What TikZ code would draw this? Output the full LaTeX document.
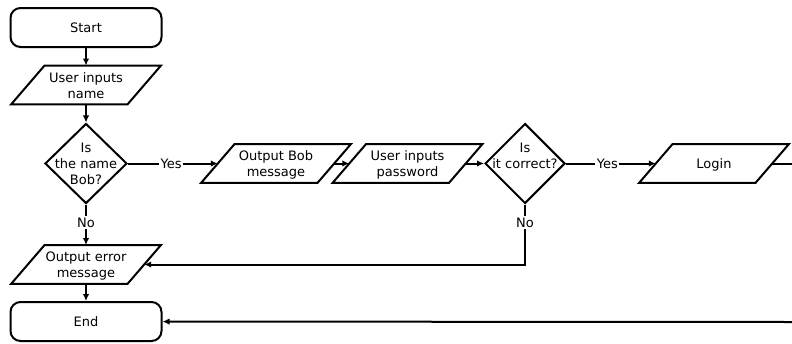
\documentclass[tikz,border=0pt]{standalone}
\usepackage{fontspec}
\setmainfont{DejaVu Sans}
\usetikzlibrary{shapes.geometric,arrows.meta}

% centred multi-line text that does not push the shape outline;
% the optional argument lifts the block
\newcommand{\flowtext}[2][0pt]{\smash{\makebox[0pt]{\raisebox{\dimexpr #1-0.4em\relax}{\begin{tabular}{@{}c@{}}#2\end{tabular}}}}}

\tikzset{
  every node/.style={font=\fontsize{13}{16}\selectfont},
  terminal/.style={draw, line width=2pt, rectangle, rounded corners=10pt,
    minimum width=151pt, minimum height=39pt, inner sep=0pt},
  % parallelogram: a plain box whose left/right sides are slanted afterwards
  io/.style={rectangle, minimum width=116pt, minimum height=38.5pt, inner sep=0pt,
    append after command={\pgfextra{\draw[line width=2pt, line join=miter]
      ([xshift=16.75pt]\tikzlastnode.north west) --
      ([xshift=16.75pt]\tikzlastnode.north east) --
      ([xshift=-16.75pt]\tikzlastnode.south east) --
      ([xshift=-16.75pt]\tikzlastnode.south west) -- cycle;}}},
  decision/.style={draw, line width=2pt, diamond, minimum width=82pt,
    minimum height=80pt, inner sep=0pt},
  arr/.style={line width=2pt, -{Latex[length=7pt,width=6.5pt]}},
  link/.style={line width=2pt},
  lbl/.style={fill=white, inner sep=1.5pt},
}

\begin{document}
\begin{tikzpicture}[x=1pt, y=-1pt]
  \useasboundingbox (0,0) rectangle (792,343);

  % main column
  \node[terminal] (start) at (86,27.5) {Start};
  \node[io] (name) at (86,85) {\flowtext{User inputs\\name}};
  \node[decision] (isbob) at (86,163.5) {\flowtext{Is\\the name\\Bob?}};
  \node[io] (err) at (86,264.5) {\flowtext{Output error\\message}};
  \node[terminal] (end) at (86,321.5) {End};

  % yes branch
  \node[io] (bob) at (276,163.5) {\flowtext{Output Bob\\message}};
  \node[io] (pwd) at (407.5,163.5) {\flowtext{User inputs\\password}};
  \node[decision, minimum width=80pt] (ok) at (525,163.5) {\flowtext[8pt]{Is\\it correct?}};
  \node[io] (login) at (714,163.5) {\flowtext{Login}};

  \coordinate (rout) at (792,163.5);
  \coordinate (rback) at (792,322);

  % connectors
  \draw[arr] (start) -- (name);
  \draw[arr] (name) -- (isbob);
  \draw[arr] (isbob) -- node[lbl, pos=0.45] {No} (err);
  \draw[arr] (err) -- (end);
  \draw[arr] (isbob) -- node[lbl, pos=0.48] {Yes} (bob);
  \draw[arr] (bob) -- (pwd);
  \draw[arr] (pwd) -- (ok);
  \draw[arr] (ok) -- node[lbl, pos=0.46] {Yes} (login);
  \draw[arr] (ok) -- node[lbl, pos=0.3] {No} (ok |- err) -- (err);
  \draw[link] (login) -- (rout);
  \draw[arr] (rback) -- (end);
\end{tikzpicture}
\end{document}
